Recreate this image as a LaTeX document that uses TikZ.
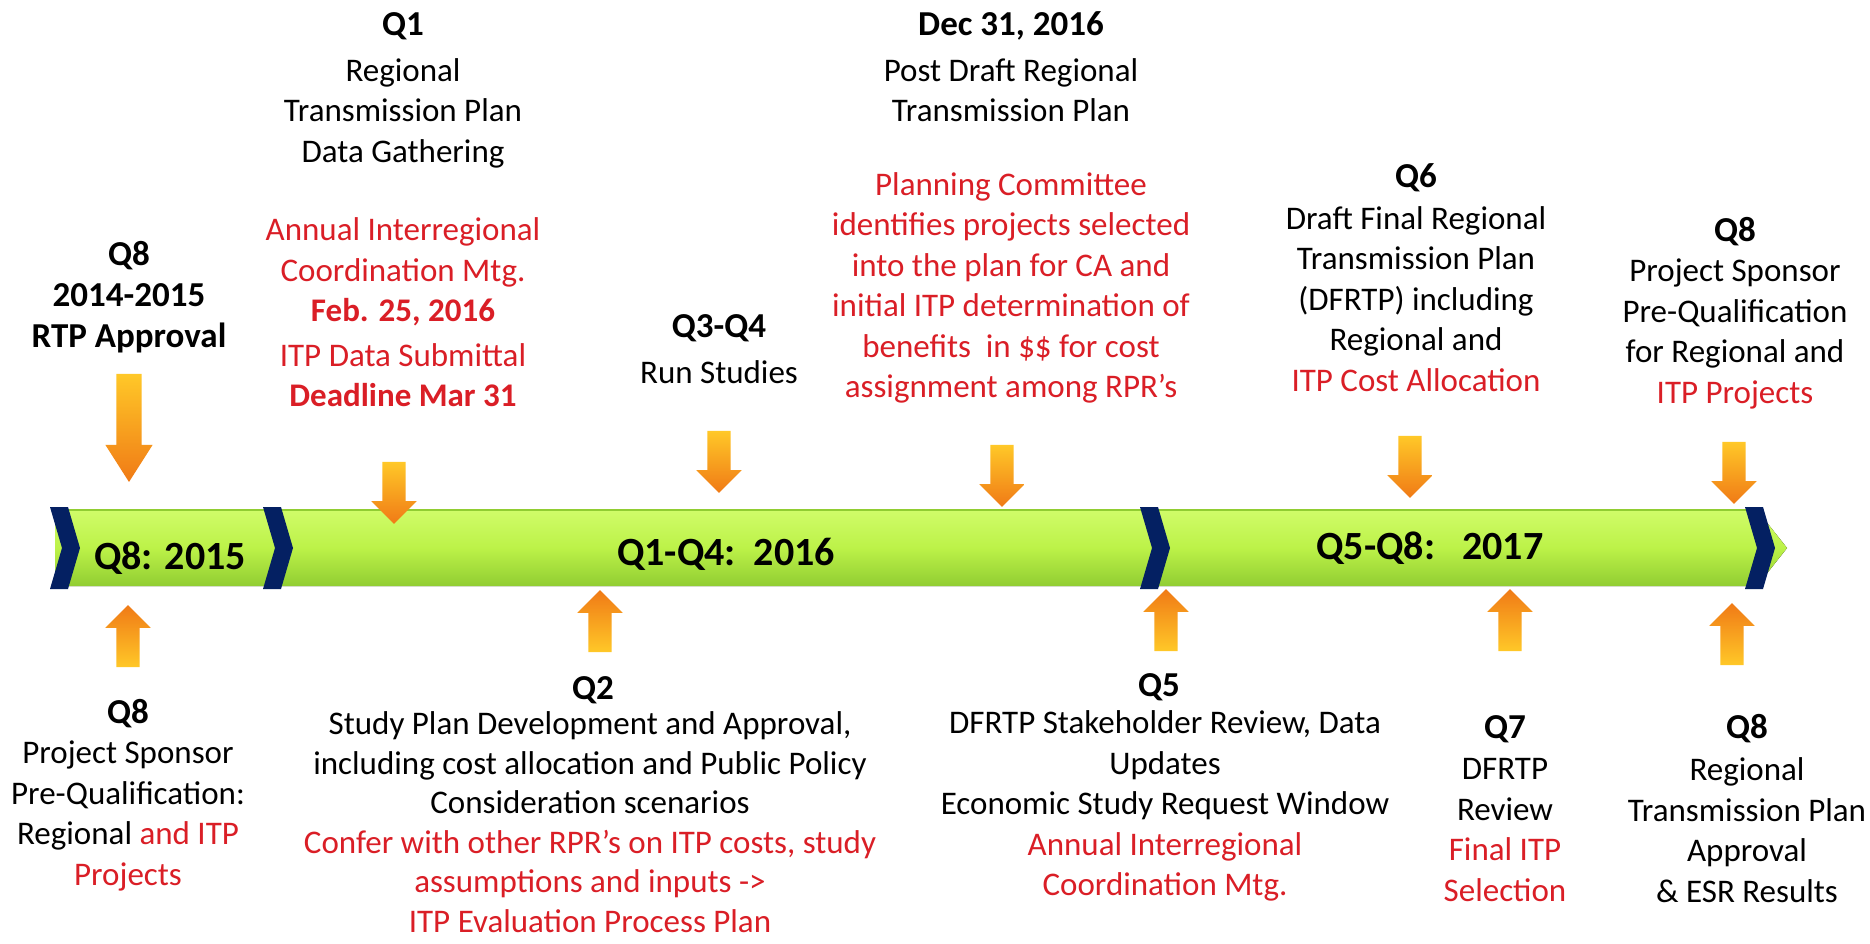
\documentclass[tikz,border=0pt]{standalone}
\usepackage{fontspec}
\setmainfont{Carlito}
\usepackage{tikz}
\usetikzlibrary{shapes.arrows}

\definecolor{itpred}{RGB}{218,30,38}
\definecolor{navy}{RGB}{4,32,98}
\definecolor{barlight}{RGB}{208,252,105}
\definecolor{barmid}{RGB}{188,242,72}
\definecolor{bardark}{RGB}{145,205,50}
\definecolor{arrlight}{RGB}{255,200,40}
\definecolor{arrdark}{RGB}{240,122,22}

\tikzset{
  hd/.style={font=\fontsize{35}{41}\selectfont\bfseries, align=center, inner sep=0pt},
  txt/.style={font=\fontsize{33}{40.5}\selectfont, align=center, inner sep=0pt},
  rtxt/.style={txt, text=itpred},
  barlbl/.style={font=\fontsize{40}{46}\selectfont\bfseries, inner sep=0pt},
  arrowbase/.style={single arrow, draw=none, inner xsep=0pt, inner ysep=11.5pt,
    minimum height=62pt, single arrow head extend=11pt},
  dnarrow/.style={arrowbase, rotate=-90, top color=arrlight, bottom color=arrdark},
  uparrow/.style={arrowbase, rotate=90, top color=arrdark, bottom color=arrlight},
  bigarrow/.style={dnarrow, minimum height=108pt, inner ysep=12.5pt, single arrow tip angle=65},
}

\begin{document}
\begin{tikzpicture}[x=1pt, y=-1pt]
    \useasboundingbox (0,0) rectangle (1870,943);
    \fill[white] (0,0) rectangle (1870,943);

    % barra verde
    \fill[top color=barlight, bottom color=bardark, middle color=barmid]
      (55,510) -- (1757,510) -- (1787,548) -- (1757,586) -- (55,586) -- cycle;
    \draw[bardark, line width=1.5pt] (55,510) -- (1757,510);
    % divisorias azuis
    \foreach \cx in {50,263,1140,1745}
      \fill[navy] (\cx,507) -- ++(18,0) -- ++(12,41) -- ++(-12,41) -- ++(-18,0) -- ++(12,-41) -- cycle;

    \node[barlbl] (y2015) at (170,558) {Q8: 2015};
    \node[barlbl] (y2016) at (726,554) {Q1-Q4:\ \ 2016};
    \node[barlbl] (y2017) at (1430,548) {Q5-Q8:\ \ \ 2017};

    % marcos de cima
    \node[hd] (q8a) at (129,297) {Q8\\2014-2015\\RTP Approval};
    \node[bigarrow] (a8a) at (129,418) {};

    \node[hd] (q1) at (403,26) {Q1};
    \node[txt] (q1txt) at (403,113) {Regional\\Transmission Plan\\Data Gathering};
    \node[rtxt] (q1mtg) at (403,272) {Annual Interregional\\Coordination Mtg.\\\textbf{Feb. 25, 2016}};
    \node[rtxt] (q1itp) at (403,375) {ITP Data Submittal\\\textbf{Deadline Mar 31}};
    \node[dnarrow] (a1) at (394,487) {};

    \node[hd] (q34) at (719,328) {Q3-Q4};
    \node[txt] (q34txt) at (719,372) {Run Studies};
    \node[dnarrow] (a34) at (719,456) {};

    \node[hd] (dec) at (1011,26) {Dec 31, 2016};
    \node[txt] (dectxt) at (1011,90) {Post Draft Regional\\Transmission Plan};
    \node[rtxt] (pc) at (1011,288) {Planning Committee\\identifies projects selected\\into the plan for CA and\\initial ITP determination of\\benefits\ \ in \$\$ for cost\\assignment among RPR’s};
    \node[dnarrow] (adec) at (1002,470) {};

    \node[hd] (q6) at (1416,178) {Q6};
    \node[txt] (q6txt) at (1416,299) {Draft Final Regional\\Transmission Plan\\(DFRTP) including\\Regional and\\\textcolor{itpred}{ITP Cost Allocation}};
    \node[dnarrow] (a6) at (1410,461) {};

    \node[hd] (q8b) at (1735,232) {Q8};
    \node[txt] (q8btxt) at (1735,334) {Project Sponsor\\Pre-Qualification\\for Regional and\\\textcolor{itpred}{ITP Projects}};
    \node[dnarrow] (a8b) at (1734,467) {};

    % marcos de baixo
    \node[uparrow] (a8c) at (128,642) {};
    \node[hd] (q8c) at (128,714) {Q8};
    \node[txt] (q8ctxt) at (128,816) {Project Sponsor\\Pre-Qualification:\\Regional \textcolor{itpred}{and ITP}\\\textcolor{itpred}{Projects}};

    \node[uparrow] (a2) at (600,627) {};
    \node[hd] (q2) at (593,690) {Q2};
    \node[txt, font=\fontsize{33}{39.5}\selectfont] (q2txt) at (590,822) {Study Plan Development and Approval,\\including cost allocation and Public Policy\\Consideration scenarios\\\textcolor{itpred}{Confer with other RPR’s on ITP costs, study}\\\textcolor{itpred}{assumptions and inputs ->}\\\textcolor{itpred}{ITP Evaluation Process Plan}};

    \node[uparrow] (a5) at (1166,626) {};
    \node[hd] (q5) at (1159,687) {Q5};
    \node[txt] (q5txt) at (1165,806) {DFRTP Stakeholder Review, Data\\Updates\\Economic Study Request Window\\\textcolor{itpred}{Annual Interregional}\\\textcolor{itpred}{Coordination Mtg.}};

    \node[uparrow] (a7) at (1510,626) {};
    \node[hd] (q7) at (1505,729) {Q7};
    \node[txt] (q7txt) at (1505,830) {DFRTP\\Review\\\textcolor{itpred}{Final ITP}\\\textcolor{itpred}{Selection}};

    \node[uparrow] (a8d) at (1732,640) {};
    \node[hd] (q8d) at (1747,729) {Q8};
    \node[txt] (q8dtxt) at (1747,830) {Regional\\Transmission Plan\\Approval\\\& ESR Results};
\end{tikzpicture}
\end{document}
